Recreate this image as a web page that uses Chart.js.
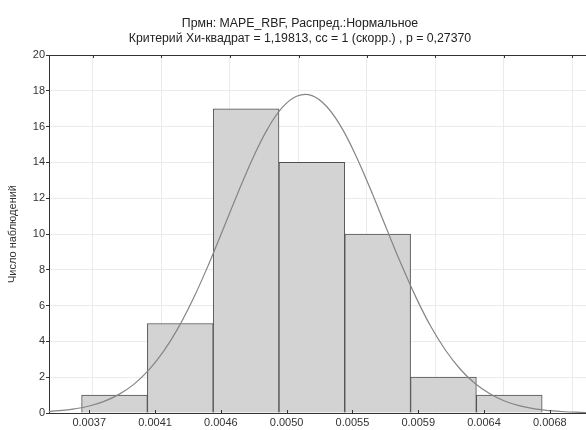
<!DOCTYPE html>
<html>
<head>
<meta charset="utf-8">
<script src="https://cdn.jsdelivr.net/npm/chart.js@4/dist/chart.umd.min.js"></script>
<style>
  html, body { margin: 0; padding: 0; background: #fff; overflow: hidden; }
  #wrap { width: 586px; height: 430px; overflow: hidden; position: relative; }
  #box { width: 610px; height: 430px; position: absolute; left: 0; top: 0; }
</style>
</head>
<body>
<div id="wrap"><div id="box"><canvas id="histChart"></canvas></div></div>
<script>
/* === DATA === */
const binCenters = [0.003870, 0.004313, 0.004756, 0.005199, 0.005642, 0.006085, 0.006528];
const binCounts = [1, 5, 17, 14, 10, 2, 1];

// ожидаемая нормальная кривая
const curveX = [0.0034, 0.0035, 0.0036, 0.0037, 0.0038, 0.0039, 0.0040, 0.0041, 0.0042, 0.0043,
  0.0044, 0.0045, 0.0046, 0.0047, 0.0048, 0.0049, 0.0050, 0.0051, 0.0052, 0.0053,
  0.0054, 0.0055, 0.0056, 0.0057, 0.0058, 0.0059, 0.0060, 0.0061, 0.0062, 0.0063,
  0.0064, 0.0065, 0.0066, 0.0067, 0.0068, 0.0069, 0.0070, 0.0071];
const curveY = [0.07, 0.13, 0.23, 0.39, 0.65, 1.04, 1.60, 2.39, 3.44, 4.77,
  6.38, 8.23, 10.24, 12.28, 14.21, 15.86, 17.07, 17.71, 17.73, 17.11,
  15.93, 14.29, 12.37, 10.33, 8.32, 6.46, 4.83, 3.49, 2.43, 1.63,
  1.06, 0.66, 0.40, 0.23, 0.13, 0.07, 0.04, 0.02];

const xTickValues = [0.0037, 0.004143, 0.004586, 0.005029, 0.005472, 0.005915, 0.006358, 0.006801];
const xTickLabels = ["0.0037", "0.0041", "0.0046", "0.0050", "0.0055", "0.0059", "0.0064", "0.0068"];
const topGridValues = [0.003725, 0.004186, 0.004647, 0.005109, 0.00557, 0.006031, 0.006492, 0.006953];
const yTickValues = [0, 2, 4, 6, 8, 10, 12, 14, 16, 18, 20];

const xMin = 0.003429;
const xMax = 0.007139;

const FONT = "'Liberation Sans', Arial, sans-serif";

/* === INNER TICKS === */
const innerTicks = {
  id: "innerTicks",
  afterDraw(chart) {
    const ctx = chart.ctx;
    const area = chart.chartArea;
    const xb = chart.scales.x;
    const xt = chart.scales.xTop;
    ctx.save();
    ctx.strokeStyle = "#333";
    ctx.lineWidth = 1;
    ctx.beginPath();
    xTickValues.forEach(v => {
      const px = Math.round(xb.getPixelForValue(v)) + 0.5;
      ctx.moveTo(px, area.bottom);
      ctx.lineTo(px, area.bottom - 3);
    });
    topGridValues.forEach(v => {
      const px = Math.round(xt.getPixelForValue(v)) + 0.5;
      ctx.moveTo(px, area.top);
      ctx.lineTo(px, area.top + 3);
    });
    ctx.stroke();
    ctx.restore();
  }
};

/* === CHART === */
const ctx = document.getElementById("histChart").getContext("2d");
new Chart(ctx, {
  type: "bar",
  data: {
    datasets: [
      {
        type: "line",
        data: curveX.map((x, i) => ({ x: x, y: curveY[i] })),
        borderColor: "#858585",
        borderWidth: 1.2,
        pointRadius: 0,
        tension: 0.4,
        fill: false,
        order: 0
      },
      {
        type: "bar",
        data: binCenters.map((x, i) => ({ x: x, y: binCounts[i] })),
        backgroundColor: "#d3d3d3",
        borderColor: "#4f4f4f",
        borderWidth: 1,
        barPercentage: 1,
        categoryPercentage: 1,
        order: 1
      }
    ]
  },
  options: {
    responsive: true,
    maintainAspectRatio: false,
    animation: false,
    layout: { padding: { left: 0, right: 10, top: 0, bottom: 0 } },
    plugins: {
      legend: { display: false },
      tooltip: { enabled: false },
      title: {
        display: true,
        text: ["Прмн: MAPE_RBF, Распред.:Нормальное",
               "Критерий Хи-квадрат = 1,19813, сс = 1 (скорр.) , p = 0,27370"],
        color: "#222",
        font: { family: FONT, size: 12.3, weight: "normal", lineHeight: 1.22 },
        padding: { top: 16.5, bottom: 8.5 }
      }
    },
    scales: {
      x: {
        type: "linear",
        position: "bottom",
        offset: false,
        min: xMin,
        max: xMax,
        afterBuildTicks: s => { s.ticks = xTickValues.map(v => ({ value: v })); },
        ticks: {
          autoSkip: false,
          maxRotation: 0,
          padding: 3,
          color: "#333",
          font: { family: FONT, size: 11 },
          callback: (v, i) => xTickLabels[i]
        },
        grid: { color: "rgba(0,0,0,0)", drawTicks: false, offset: false },
        border: { display: true, color: "#333", width: 1 },
        afterFit: s => { s.height = 17; }
      },
      xTop: {
        type: "linear",
        position: "top",
        offset: false,
        min: xMin,
        max: xMax,
        afterBuildTicks: s => { s.ticks = topGridValues.map(v => ({ value: v })); },
        ticks: { display: false },
        grid: { color: "#ebebeb", drawTicks: false, offset: false },
        border: { display: true, color: "#333", width: 1 },
        afterFit: s => { s.height = 0; }
      },
      y: {
        min: 0,
        max: 20,
        afterBuildTicks: s => { s.ticks = yTickValues.map(v => ({ value: v })); },
        ticks: {
          padding: 1,
          color: "#333",
          font: { family: FONT, size: 11 }
        },
        grid: { color: "#ebebeb", tickColor: "#333", tickLength: 3 },
        border: { display: true, color: "#333", width: 1 },
        title: {
          display: true,
          text: "Число наблюдений",
          color: "#333",
          font: { family: FONT, size: 11 },
          padding: { top: 6, bottom: 0 }
        },
        afterFit: s => { s.width = 49; }
      }
    }
  },
  plugins: [innerTicks]
});
</script>
</body>
</html>
